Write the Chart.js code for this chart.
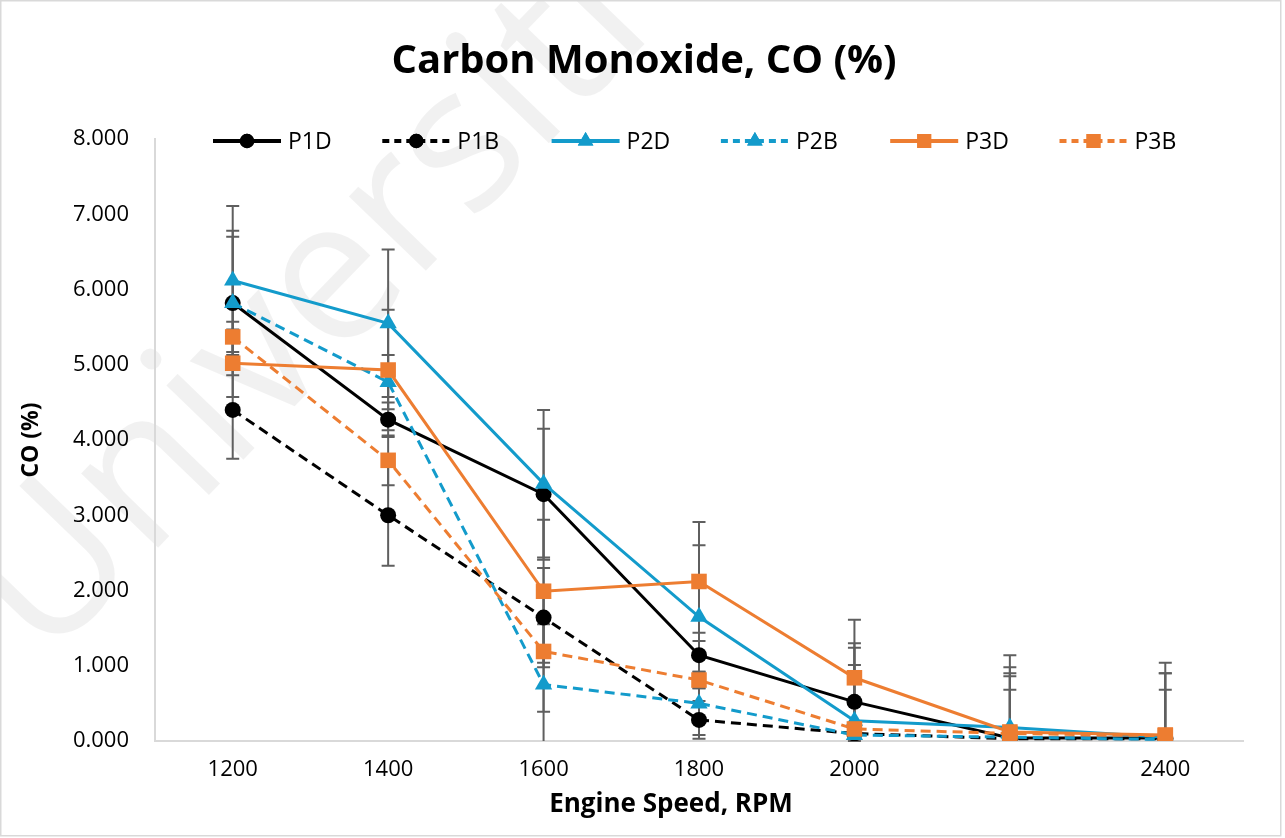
<!DOCTYPE html>
<html>
<head>
<meta charset="utf-8">
<script src="https://cdn.jsdelivr.net/npm/chart.js@4.4.1/dist/chart.umd.min.js"></script>
<style>
  html, body { margin: 0; padding: 0; background: #fff; }
  #wrap { width: 1285px; height: 838px; position: relative; }
</style>
</head>
<body>
<div id="wrap"><canvas id="c" width="1285" height="838"></canvas></div>
<script>
// ---- data ----
const categories = ['1200', '1400', '1600', '1800', '2000', '2200', '2400'];
const seriesNames = ['P1D', 'P1B', 'P2D', 'P2B', 'P3D', 'P3B'];

const p1d = [5.82, 4.27, 3.28, 1.14, 0.52, 0.04, 0.04];
const p1b = [4.40, 3.00, 1.64, 0.28, 0.10, 0.03, 0.03];
const p2d = [6.12, 5.55, 3.42, 1.65, 0.27, 0.18, 0.05];
const p2b = [5.82, 4.77, 0.75, 0.50, 0.08, 0.05, 0.02];
const p3d = [5.02, 4.93, 1.99, 2.12, 0.84, 0.12, 0.08];
const p3b = [5.37, 3.73, 1.19, 0.81, 0.16, 0.10, 0.07];

// error (±) values
const p1dErr = [0.96, 0.23, 0.87, 0.30, 0.78, 0.86, 0.86];
const p1bErr = [0.65, 0.67, 0.66, 0.25, 0.10, 0.10, 0.05];
const p2dErr = [0.99, 0.98, 0.98, 0.95, 0.97, 0.96, 0.85];
const p2bErr = [0.88, 0.36, 0.80, 0.42, 0.10, 0.63, 0.05];
const p3dErr = [0.45, 0.80, 0.95, 0.79, 0.77, 0.86, 0.96];
const p3bErr = [0.20, 0.33, 0.80, 0.11, 0.85, 0.76, 0.61];

const yTicksMin = 0, yTicksMax = 8, yStep = 1;

const BLACK = '#000000';
const BLUE = '#139BCB';
const ORANGE = '#ED7D31';
const ERR = '#5F5F5F';
const FONT = "'Open Sans', 'Liberation Sans', sans-serif";

const styles = [
  { color: BLACK,  dash: [],      point: 'circle',   radius: 8 },
  { color: BLACK,  dash: [10, 6], point: 'circle',   radius: 8 },
  { color: BLUE,   dash: [],      point: 'triangle', radius: 10 },
  { color: BLUE,   dash: [10, 6], point: 'triangle', radius: 10 },
  { color: ORANGE, dash: [],      point: 'rect',     radius: 11 },
  { color: ORANGE, dash: [10, 6], point: 'rect',     radius: 11 },
];
const values = [p1d, p1b, p2d, p2b, p3d, p3b];
const errors = [p1dErr, p1bErr, p2dErr, p2bErr, p3dErr, p3bErr];

const datasets = seriesNames.map((name, i) => ({
  label: name,
  data: values[i],
  errors: errors[i],
  borderColor: styles[i].color,
  backgroundColor: styles[i].color,
  borderWidth: 3,
  borderDash: styles[i].dash,
  pointStyle: styles[i].point,
  pointRadius: styles[i].radius,
  pointBorderWidth: 0,
  pointBackgroundColor: styles[i].color,
  tension: 0,
  order: seriesNames.length - i,
}));

// ---- plugins ----
const bgPlugin = {
  id: 'bg',
  beforeDraw(chart) {
    const ctx = chart.ctx;
    ctx.save();
    ctx.fillStyle = '#fff';
    ctx.fillRect(0, 0, chart.width, chart.height);
    // watermark
    ctx.translate(45, 665);
    ctx.rotate(-46 * Math.PI / 180);
    ctx.fillStyle = 'rgba(0,0,0,0.055)';
    ctx.font = "200px 'Open Sans', sans-serif";
    ctx.textBaseline = 'alphabetic';
    ctx.fillText('Universiti Malaya', 0, 0);
    ctx.restore();
    // outer border
    ctx.save();
    ctx.strokeStyle = '#D9D9D9';
    ctx.lineWidth = 1.5;
    ctx.strokeRect(0.75, 0.75, 1280, 835);
    ctx.restore();
  }
};

const errorBarPlugin = {
  id: 'errorBars',
  beforeDatasetsDraw(chart) {
    const ctx = chart.ctx;
    const y = chart.scales.y;
    const area = chart.chartArea;
    ctx.save();
    ctx.strokeStyle = ERR;
    ctx.lineWidth = 2;
    chart.data.datasets.forEach((ds, di) => {
      const meta = chart.getDatasetMeta(di);
      meta.data.forEach((pt, i) => {
        const e = ds.errors[i];
        const v = ds.data[i];
        const top = y.getPixelForValue(v + e);
        let bot = y.getPixelForValue(v - e);
        const botCap = bot <= area.bottom;
        bot = Math.min(bot, area.bottom);
        ctx.beginPath();
        ctx.moveTo(pt.x, top);
        ctx.lineTo(pt.x, bot);
        ctx.moveTo(pt.x - 6.5, top);
        ctx.lineTo(pt.x + 6.5, top);
        if (botCap) {
          ctx.moveTo(pt.x - 6.5, bot);
          ctx.lineTo(pt.x + 6.5, bot);
        }
        ctx.stroke();
      });
    });
    ctx.restore();
  }
};

const overlayPlugin = {
  id: 'overlay',
  afterDraw(chart) {
    const ctx = chart.ctx;
    ctx.save();
    // title
    ctx.fillStyle = '#000';
    ctx.font = "bold 40px " + FONT;
    ctx.textAlign = 'center';
    ctx.textBaseline = 'middle';
    ctx.fillText('Carbon Monoxide, CO (%)', 644, 62);
    // x axis title
    ctx.font = "bold 26px " + FONT;
    ctx.fillText('Engine Speed, RPM', 671, 805);
    // legend
    const legendY = 141;
    ctx.font = "23px " + FONT;
    ctx.textAlign = 'left';
    seriesNames.forEach((name, i) => {
      const s = styles[i];
      const x0 = 213 + i * 169.3;
      ctx.strokeStyle = s.color;
      ctx.lineWidth = 4;
      ctx.setLineDash(s.dash.length ? [7, 5] : []);
      ctx.beginPath();
      ctx.moveTo(x0, legendY);
      ctx.lineTo(x0 + 68, legendY);
      ctx.stroke();
      ctx.setLineDash([]);
      ctx.fillStyle = s.color;
      Chart.helpers.drawPoint(ctx, { pointStyle: s.point, radius: s.radius * 0.9, borderWidth: 0 }, x0 + 34, legendY);
      ctx.fill();
      ctx.fillStyle = '#000';
      ctx.fillText(name, x0 + 75, legendY + 1);
    });
    ctx.restore();
  }
};

new Chart(document.getElementById('c'), {
  type: 'line',
  data: { labels: categories, datasets },
  plugins: [bgPlugin, errorBarPlugin, overlayPlugin],
  options: {
    responsive: false,
    animation: false,
    devicePixelRatio: 1,
    layout: { padding: { top: 139, right: 42, bottom: 0, left: 0 } },
    plugins: {
      legend: { display: false },
      title: { display: false },
      tooltip: { enabled: false },
    },
    scales: {
      x: {
        type: 'category',
        offset: true,
        grid: { display: false, drawTicks: false },
        border: { display: true, color: '#D9D9D9', width: 2 },
        ticks: { color: '#000', font: { family: FONT, size: 22 }, padding: 16 },
        title: { display: false },
        afterFit(scale) { scale.height = 97; },
      },
      y: {
        min: yTicksMin,
        max: yTicksMax,
        grid: { display: false, drawTicks: false },
        border: { display: true, color: '#D9D9D9', width: 2 },
        ticks: {
          stepSize: yStep,
          color: '#000',
          font: { family: FONT, size: 22 },
          padding: 26,
          callback: (v) => Number(v).toFixed(3),
        },
        title: { display: true, text: 'CO (%)', color: '#000', font: { family: FONT, size: 23, weight: 'bold' }, padding: { top: 18, bottom: 0 } },
        afterFit(scale) { scale.width = 155; },
      }
    }
  }
});
</script>
</body>
</html>
